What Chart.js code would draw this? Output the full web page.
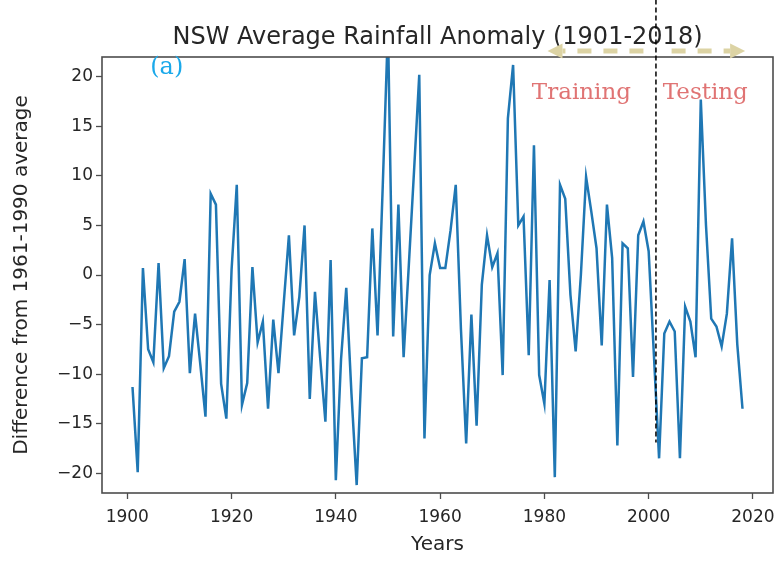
<!DOCTYPE html>
<html>
<head>
<meta charset="utf-8">
<title>NSW Average Rainfall Anomaly</title>
<script src="https://cdn.jsdelivr.net/npm/chart.js@4.4.0/dist/chart.umd.min.js"></script>
<style>
  html, body { margin:0; padding:0; background:#fff; }
  #wrap { width:780px; height:561px; }
</style>
</head>
<body>
<div id="wrap"><canvas id="chart-rain" width="780" height="561"></canvas></div>
<script>
// NSW yearly rainfall anomaly
const firstYear = 1901;
const anomaly = [
  -11.3, -19.9, 0.7, -7.5, -8.8, 1.2, -9.4, -8.2, -3.7, -2.7,    // 1901-1910
  1.6, -9.9, -3.9, -9.0, -14.3, 8.2, 7.1, -11.0, -14.5, 0.5,     // 1911-1920
  9.1, -13.1, -10.9, 0.8, -6.8, -4.7, -13.5, -4.5, -9.9, -2.9,   // 1921-1930
  4.0, -6.1, -2.2, 5.0, -12.5, -1.7, -8.4, -14.8, 1.5, -20.7,    // 1931-1940
  -8.5, -1.3, -12.0, -21.2, -8.4, -8.3, 4.7, -6.1, 9.0, 25.0,    // 1941-1950
  -6.2, 7.1, -8.3, 1.0, 10.5, 20.2, -16.5, 0.0, 3.2, 0.7,        // 1951-1960
  0.7, 4.5, 9.1, -5.5, -17.0, -4.0, -15.2, -1.0, 4.0, 0.8,       // 1961-1970
  2.2, -10.1, 15.8, 21.2, 5.0, 5.9, -8.1, 13.1, -10.1, -13.0,    // 1971-1980
  -0.5, -20.4, 9.1, 7.7, -2.0, -7.7, 0.0, 9.9, 6.4, 2.7,         // 1981-1990
  -7.1, 7.1, 1.7, -17.2, 3.2, 2.7, -10.3, 4.0, 5.4, 2.4,         // 1991-2000
  -8.0, -18.5, -5.9, -4.7, -5.7, -18.5, -3.2, -4.7, -8.3, 17.7,  // 2001-2010
  5.0, -4.4, -5.2, -7.2, -3.9, 3.7, -7.0, -13.5                  // 2011-2018
];
const years = anomaly.map((v, i) => firstYear + i);

const xTicks = [1900, 1920, 1940, 1960, 1980, 2000, 2020];
const yTicks = [-20, -15, -10, -5, 0, 5, 10, 15, 20];
const xRange = [1895.15, 2023.85];
const yRange = [-22, 22];

const chartTitle = 'NSW Average Rainfall Anomaly (1901-2018)';

// annotations, in data units (year, anomaly)
const splitYear = 2001.4;
const splitSpan = [27.8, -16.9];
const arrowLevel = 22.6;
const trainArrow = [1999.0, 1980.6];   // tail, tip
const testArrow = [2004.4, 2018.5];
const labelA = { text: '(a)', at: [1904.4, 20.3] };
const labelTrain = { text: 'Training', at: [1977.6, 17.8] };
const labelTest = { text: 'Testing', at: [2002.7, 17.8] };

const points = years.map((yr, i) => ({ x: yr, y: anomaly[i] }));

function arrow(ctx, x, y, from, to){
  const x0 = x.getPixelForValue(from), x1 = x.getPixelForValue(to), py = y.getPixelForValue(arrowLevel);
  const dir = x1 > x0 ? 1 : -1;
  const head = 15;
  ctx.setLineDash([14, 12]);
  ctx.beginPath();
  ctx.moveTo(x0, py);
  ctx.lineTo(x1 - dir * head, py);
  ctx.stroke();
  ctx.setLineDash([]);
  ctx.beginPath();
  ctx.moveTo(x1, py);
  ctx.lineTo(x1 - dir * head, py - 7.5);
  ctx.lineTo(x1 - dir * head, py + 7.5);
  ctx.closePath();
  ctx.fill();
}

const overlay = {
  id: 'overlay',
  afterDatasetsDraw(chart){
    const { ctx, chartArea: a, scales: { x, y } } = chart;
    ctx.save();
    // frame on all four sides
    ctx.strokeStyle = '#4d4d4d';
    ctx.lineWidth = 1.6;
    ctx.strokeRect(a.left, a.top, a.right - a.left, a.bottom - a.top);

    // title centred over the axes box (matplotlib style)
    ctx.font = '24px "DejaVu Sans"';
    ctx.fillStyle = '#262626';
    ctx.textAlign = 'center';
    ctx.textBaseline = 'middle';
    ctx.fillText(chartTitle, (a.left + a.right) / 2, a.top - 19);

    // train / test split
    const sx = x.getPixelForValue(splitYear);
    ctx.strokeStyle = '#000';
    ctx.lineWidth = 1.5;
    ctx.setLineDash([5, 3]);
    ctx.beginPath();
    ctx.moveTo(sx, y.getPixelForValue(splitSpan[0]));
    ctx.lineTo(sx, y.getPixelForValue(splitSpan[1]));
    ctx.stroke();

    // tan dashed arrows
    ctx.strokeStyle = '#dcd3a4';
    ctx.fillStyle = '#dcd3a4';
    ctx.lineWidth = 5;
    arrow(ctx, x, y, trainArrow[0], trainArrow[1]);
    arrow(ctx, x, y, testArrow[0], testArrow[1]);

    // text labels
    ctx.textAlign = 'left';
    ctx.textBaseline = 'alphabetic';
    ctx.font = '24px "DejaVu Serif"';
    ctx.fillStyle = '#1ba9ea';
    ctx.fillText(labelA.text, x.getPixelForValue(labelA.at[0]), y.getPixelForValue(labelA.at[1]));
    ctx.font = '23px "DejaVu Serif"';
    ctx.fillStyle = '#e07474';
    ctx.fillText(labelTrain.text, x.getPixelForValue(labelTrain.at[0]), y.getPixelForValue(labelTrain.at[1]));
    ctx.fillText(labelTest.text, x.getPixelForValue(labelTest.at[0]), y.getPixelForValue(labelTest.at[1]));
    ctx.restore();
  }
};

const tickFont = { family: 'DejaVu Sans', size: 17 };
const labelFont = { family: 'DejaVu Sans', size: 20 };
// matplotlib style minus sign
const fmt = v => String(v).replace('-', '\u2212');

new Chart(document.getElementById('chart-rain').getContext('2d'), {
  type: 'line',
  data: {
    datasets: [{
      data: points,
      borderColor: '#1f77b4',
      borderWidth: 2.5,
      pointRadius: 0,
      tension: 0,
      fill: false
    }]
  },
  options: {
    responsive: false,
    animation: false,
    layout: { padding: { left: 0, right: 7, top: 57, bottom: 0 } },
    plugins: {
      legend: { display: false },
      tooltip: { enabled: false },
      title: { display: false }
    },
    scales: {
      x: {
        type: 'linear',
        min: xRange[0],
        max: xRange[1],
        afterBuildTicks: s => { s.ticks = xTicks.map(v => ({ value: v })); },
        // fixed axis box, no extra room for edge labels
        afterFit: s => { s.height = 68; s.paddingLeft = 0; s.paddingRight = 0; },
        border: { display: false },
        grid: { drawOnChartArea: false, drawTicks: true, tickLength: 6, tickColor: '#4d4d4d', tickWidth: 1.3 },
        ticks: { color: '#262626', font: tickFont, padding: 8, maxRotation: 0, callback: v => String(v) },
        title: { display: true, text: 'Years', color: '#262626', font: labelFont, padding: { top: 0, bottom: 4 } }
      },
      y: {
        min: yRange[0],
        max: yRange[1],
        afterBuildTicks: s => { s.ticks = yTicks.map(v => ({ value: v })); },
        afterFit: s => { s.width = 102; s.paddingTop = 0; s.paddingBottom = 0; },
        border: { display: false },
        grid: { drawOnChartArea: false, drawTicks: true, tickLength: 6, tickColor: '#4d4d4d', tickWidth: 1.3 },
        ticks: { color: '#262626', font: tickFont, padding: 3, callback: fmt },
        title: { display: true, text: 'Difference from 1961-1990 average', color: '#262626', font: labelFont, padding: { top: 10, bottom: 0 } }
      }
    }
  },
  plugins: [overlay]
});
</script>
</body>
</html>
